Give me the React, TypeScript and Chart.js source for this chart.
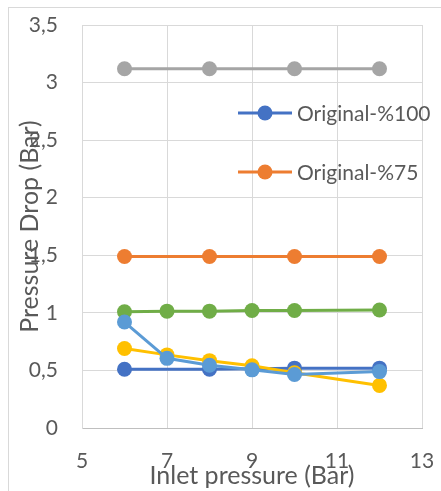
import React, { useEffect, useRef } from "react";
import { Chart, registerables } from "chart.js";

Chart.register(...registerables);

const xFour = [6, 8, 10, 12];
const xSix = [6, 7, 8, 9, 10, 12];

const original100 = [0.51, 0.51, 0.52, 0.52];
const original75 = [1.49, 1.49, 1.49, 1.49];
const series3 = [3.12, 3.12, 3.12, 3.12];
const series4 = [0.69, 0.635, 0.585, 0.54, 0.48, 0.37];
const series5 = [0.92, 0.605, 0.545, 0.505, 0.465, 0.49];
const series6 = [1.01, 1.015, 1.015, 1.02, 1.02, 1.025];

const yTickLabels: Record<string, string> = {
  "0": "0", "0.5": "0,5", "1": "1", "1.5": "1,5", "2": "2", "2.5": "2,5", "3": "3", "3.5": "3,5",
};

const FONT = "Lato, 'Open Sans', sans-serif";
const TEXT = "#595959";

function pts(xs: number[], ys: number[]) {
  return xs.map((x, i) => ({ x, y: ys[i] }));
}

function ds(label: string, xs: number[], ys: number[], color: string, inLegend: boolean) {
  return {
    label,
    data: pts(xs, ys),
    borderColor: color,
    backgroundColor: color,
    borderWidth: 3,
    pointRadius: 7.5,
    pointHoverRadius: 7.5,
    pointBorderWidth: 0,
    showLine: true,
    inLegend,
  } as any;
}

const legendPlugin = {
  id: "customLegend",
  afterDraw(chart: any) {
    const ctx = chart.ctx;
    const items = chart.data.datasets.filter((d: any) => d.inLegend);
    const ys = [113, 172];
    ctx.save();
    items.forEach((d: any, i: number) => {
      const y = ys[i];
      ctx.strokeStyle = d.borderColor;
      ctx.lineWidth = 3;
      ctx.beginPath();
      ctx.moveTo(238, y);
      ctx.lineTo(292, y);
      ctx.stroke();
      ctx.fillStyle = d.borderColor;
      ctx.beginPath();
      ctx.arc(265, y, 7.5, 0, Math.PI * 2);
      ctx.fill();
      ctx.fillStyle = TEXT;
      ctx.font = `21px ${FONT}`;
      ctx.textAlign = "left";
      ctx.textBaseline = "middle";
      ctx.fillText(d.label, 297, y + 1);
    });
    ctx.restore();
  },
};

const framePlugin = {
  id: "frame",
  beforeDraw(chart: any) {
    const ctx = chart.ctx;
    ctx.save();
    ctx.fillStyle = "#ffffff";
    ctx.fillRect(0, 0, chart.width, chart.height);
    ctx.strokeStyle = "#d9d9d9";
    ctx.lineWidth = 1;
    ctx.strokeRect(8.5, 7.5, 600, 600);
    ctx.restore();
  },
};

export default function App() {
  const ref = useRef<HTMLCanvasElement>(null);
  useEffect(() => {
    if (!ref.current) return;
    const chart = new Chart(ref.current, {
      type: "scatter",
      data: {
        datasets: [
          ds("Series5", xSix, series5, "#5B9BD5", false),
          ds("Series4", xSix, series4, "#FFC000", false),
          ds("Series6", xSix, series6, "#70AD47", false),
          ds("Original-%100", xFour, original100, "#4472C4", true),
          ds("Original-%75", xFour, original75, "#ED7D31", true),
          ds("Series3", xFour, series3, "#A5A5A5", false),
        ],
      },
      options: {
        responsive: false,
        animation: false,
        layout: { padding: { top: 25, right: 19, bottom: 0, left: 0 } },
        plugins: { legend: { display: false }, tooltip: { enabled: false } },
        scales: {
          x: {
            type: "linear",
            min: 5,
            max: 13,
            ticks: { stepSize: 2, color: TEXT, font: { family: FONT, size: 21 }, padding: 21 },
            grid: { color: "#d9d9d9", drawTicks: false },
            border: { color: "#bfbfbf" },
            title: {
              display: true,
              text: "Inlet pressure (Bar)",
              color: TEXT,
              font: { family: FONT, size: 25 },
              padding: { top: 0, bottom: 0.5 },
            },
            afterFit: (s: any) => {
              s.height = 63;
              s.paddingLeft = 0;
              s.paddingRight = 0;
            },
          },
          y: {
            type: "linear",
            min: 0,
            max: 3.5,
            ticks: {
              stepSize: 0.5,
              color: TEXT,
              font: { family: FONT, size: 21 },
              padding: 24,
              callback: (v: any) => yTickLabels[String(v)] ?? String(v),
            },
            grid: { color: "#d9d9d9", drawTicks: false },
            border: { color: "#d9d9d9" },
            title: {
              display: true,
              text: "Pressure Drop (Bar)",
              color: TEXT,
              font: { family: FONT, size: 25 },
              padding: { top: 15, bottom: 0 },
            },
            afterFit: (s: any) => {
              s.width = 82;
              s.paddingTop = 0;
              s.paddingBottom = 0;
            },
          },
        },
      },
      plugins: [framePlugin, legendPlugin],
    });
    return () => chart.destroy();
  }, []);
  return (
    <div style={{ position: "fixed", left: 0, top: 0, width: 441, height: 491 }}>
      <canvas ref={ref} width={441} height={491} style={{ display: "block" }} />
    </div>
  );
}
